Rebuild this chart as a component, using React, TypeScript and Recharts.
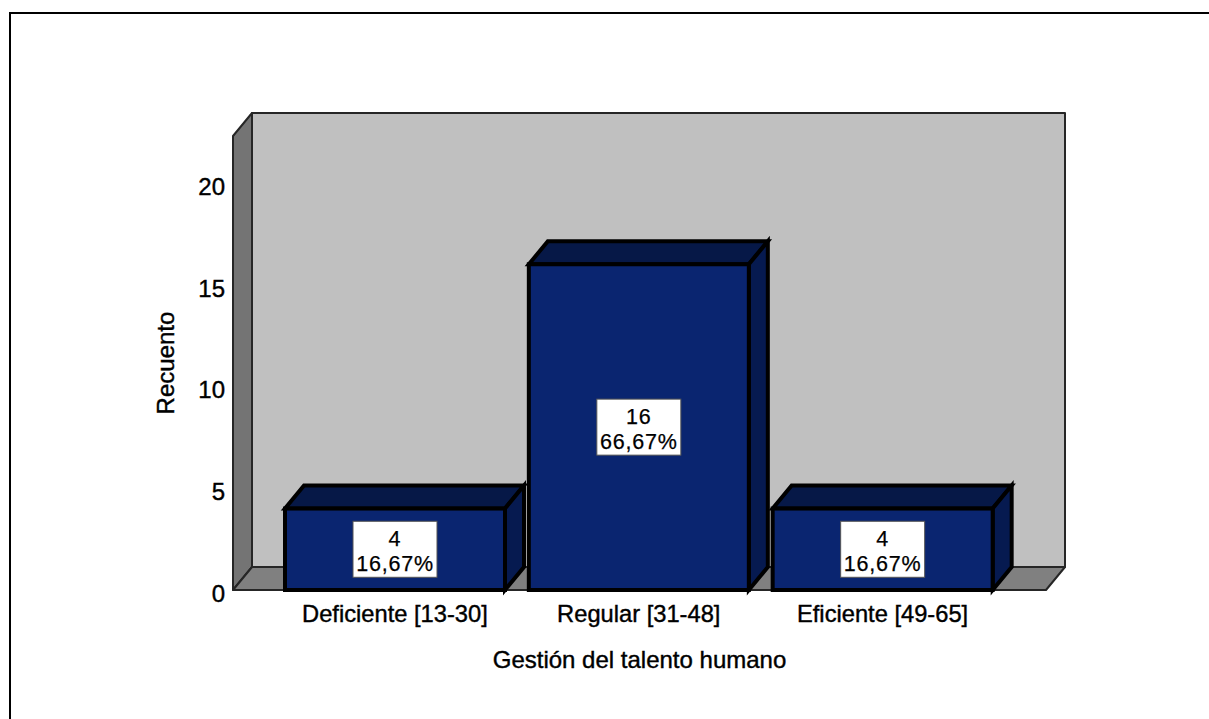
import React from 'react';
import { BarChart, Bar, XAxis, YAxis, LabelList, Customized, usePlotArea } from 'recharts';

const categories = ['Deficiente [13-30]', 'Regular [31-48]', 'Eficiente [49-65]'];
const counts = [4, 16, 4];
const percents = ['16,67%', '66,67%', '16,67%'];
const yTicks = [0, 5, 10, 15, 20];

const data = categories.map((name, i) => ({ name, count: counts[i], boxLabel: `${counts[i]}|${percents[i]}` }));

const FONT = '"Liberation Sans", Arial, sans-serif';
// how far the back of the 3D scene sits from the front plane
const DX = 19;
const DY = 23;

// back wall, left wall and floor behind the bars
const Walls = () => {
  const plot = usePlotArea();
  if (!plot) return null;
  const { x, y, width, height } = plot;
  const r = x + width;
  const b = y + height;
  return (
    <g stroke="#262626" strokeWidth={2} strokeLinejoin="round">
      <rect x={x + DX} y={y - DY} width={width} height={height} fill="#c0c0c0" />
      <polygon points={`${x},${y} ${x + DX},${y - DY} ${x + DX},${b - DY} ${x},${b}`} fill="#747474" />
      <polygon points={`${x},${b} ${x + DX},${b - DY} ${r + DX},${b - DY} ${r},${b}`} fill="#808080" />
    </g>
  );
};

const Box3D = (props: any) => {
  const { x, y, width, height } = props;
  const r = x + width;
  const b = y + height;
  return (
    <g stroke="#000" strokeWidth={4} strokeLinejoin="miter">
      <polygon points={`${x},${y} ${x + DX},${y - DY} ${r + DX},${y - DY} ${r},${y}`} fill="#061847" />
      <polygon points={`${r},${y} ${r + DX},${y - DY} ${r + DX},${b - DY} ${r},${b}`} fill="#061a50" />
      <rect x={x} y={y} width={width} height={height} fill="#0a2570" />
    </g>
  );
};

// white box in the middle of the bar with count and percentage
const BoxLabel = (props: any) => {
  const { x, y, width, height, value } = props;
  const [count, pct] = String(value).split('|');
  const cx = x + width / 2;
  const cy = y + height / 2;
  return (
    <g fontFamily={FONT} fontSize={21.5} letterSpacing={0.8} fill="#000" stroke="#000" strokeWidth={0.25} textAnchor="middle">
      <rect x={cx - 42} y={cy - 28} width={84} height={56} fill="#fff" stroke="#555" strokeWidth={1} />
      <text x={cx} y={cy - 3}>{count}</text>
      <text x={cx} y={cy + 22}>{pct}</text>
    </g>
  );
};

const YTick = ({ x, y, payload }: any) => (
  <text x={x} y={y + 12} textAnchor="end" fontFamily={FONT} fontSize={24} stroke="#000" strokeWidth={0.4} fill="#000">
    {payload.value}
  </text>
);

const axisText = { fontFamily: FONT, fontSize: 24, fill: '#000', stroke: '#000', strokeWidth: 0.4 };

export default function App() {
  return (
    <div style={{ position: 'absolute', left: 0, top: 0, width: 1209, height: 719, background: '#fff', overflow: 'hidden' }}>
      <div style={{ position: 'absolute', left: 9, top: 12, width: 1200, height: 707, borderLeft: '2px solid #000', borderTop: '2px solid #000', boxSizing: 'border-box' }} />
      <div style={{ position: 'absolute', left: 0, top: 0 }}>
        <BarChart
          width={1209}
          height={719}
          data={data}
          barSize={220}
          margin={{ top: 136, right: 163, bottom: 0, left: 173 }}
        >
          <Customized component={Walls} />
          <XAxis
            dataKey="name"
            height={129}
            padding={{ left: 40, right: 41.5 }}
            axisLine={false}
            tickLine={false}
            tickMargin={9}
            tick={{ ...axisText, fontSize: 23.7 }}
            label={{ ...axisText, value: 'Gestión del talento humano', position: 'insideBottom', offset: 51 }}
          />
          <YAxis
            width={60}
            domain={[0, 22.3]}
            ticks={yTicks}
            axisLine={false}
            tickLine={false}
            tick={<YTick />}
            label={{ ...axisText, value: 'Recuento', angle: -90, position: 'insideLeft', offset: -8, textAnchor: 'middle' }}
          />
          <Bar dataKey="count" shape={<Box3D />} isAnimationActive={false}>
            <LabelList dataKey="boxLabel" content={<BoxLabel />} />
          </Bar>
        </BarChart>
      </div>
    </div>
  );
}
